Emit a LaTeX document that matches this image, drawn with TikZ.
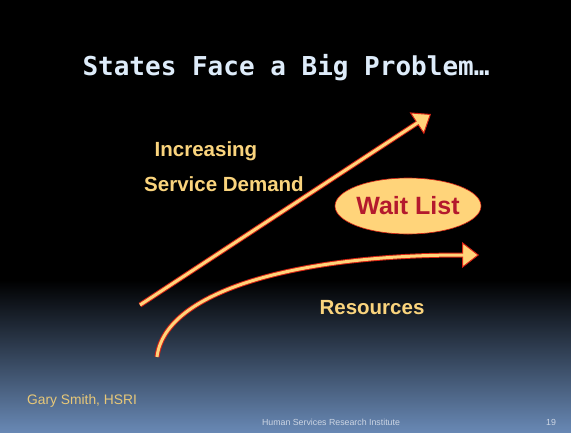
\documentclass[tikz,border=0pt]{standalone}
\usepackage{fontspec}
\setmainfont{Liberation Sans}
\newfontfamily\titlefont{DejaVu Sans Mono}
\usetikzlibrary{arrows.meta,shapes.geometric}
\definecolor{titleblue}{RGB}{222,236,250}
\definecolor{bandfill}{RGB}{255,212,122}
\definecolor{bandred}{RGB}{215,35,20}
\definecolor{waitred}{RGB}{180,25,45}
\definecolor{labelgold}{RGB}{250,212,125}
\definecolor{footgold}{RGB}{232,200,120}
\definecolor{footgrey}{RGB}{205,214,228}
\definecolor{slateblue}{RGB}{104,136,180}
\begin{document}
\begin{tikzpicture}[x=1pt,y=-1pt,
		band/.style={draw=bandred, line width=5pt, -{Triangle[length=17pt,width=26pt,line width=1pt,fill=bandfill]}},
		bandcore/.style={draw=bandfill, line width=3pt, shorten >=15pt},
		label/.style={text=labelgold, font=\bfseries\fontsize{20.5}{24}\selectfont, inner sep=0pt}]
		\useasboundingbox (0,0) rectangle (571,432);
		% background
		\fill[black] (0,0) rectangle (571,432);
		\shade[top color=black, bottom color=slateblue] (0,280) rectangle (571,432);
		\node[text=titleblue, font=\titlefont\bfseries\fontsize{26}{30}\selectfont] (title) at (286,68) {States Face a Big Problem…};
		% demand
		\coordinate (demandstart) at (140,305);
		\coordinate (demandtip) at (431,114);
		\draw[band] (demandstart) -- (demandtip);
		\draw[bandcore] (demandstart) -- (demandtip);
		% resources
		\coordinate (resstart) at (157,357);
		\coordinate (resbend) at (462,255);
		\coordinate (restip) at (479,255);
		\draw[band] (resstart) .. controls (165,290) and (300,255) .. (resbend) -- (restip);
		\draw[bandcore] (resstart) .. controls (165,290) and (300,255) .. (resbend) -- (restip);
		\node[ellipse, draw=bandred, line width=0.6pt, fill=bandfill, minimum width=144pt, minimum height=56pt, inner sep=0pt,
			text=waitred, font=\bfseries\fontsize{25}{30}\selectfont] (wait) at (408,206) {Wait List};
		\node[label] (incr) at (206,151) {Increasing};
		\node[label] (demand) at (224,184) {Service Demand};
		\node[label] (res) at (372,308) {Resources};
		% footer
		\node[text=footgold, font=\fontsize{13.8}{16}\selectfont, anchor=west, inner sep=0pt] (author) at (27,401) {Gary Smith, HSRI};
		\node[text=footgrey, font=\fontsize{8.8}{10}\selectfont, inner sep=0pt] (org) at (331,422) {Human Services Research Institute};
		\node[text=footgrey, font=\fontsize{8.8}{10}\selectfont, inner sep=0pt] (page) at (551,422) {19};
	\end{tikzpicture}
\end{document}
